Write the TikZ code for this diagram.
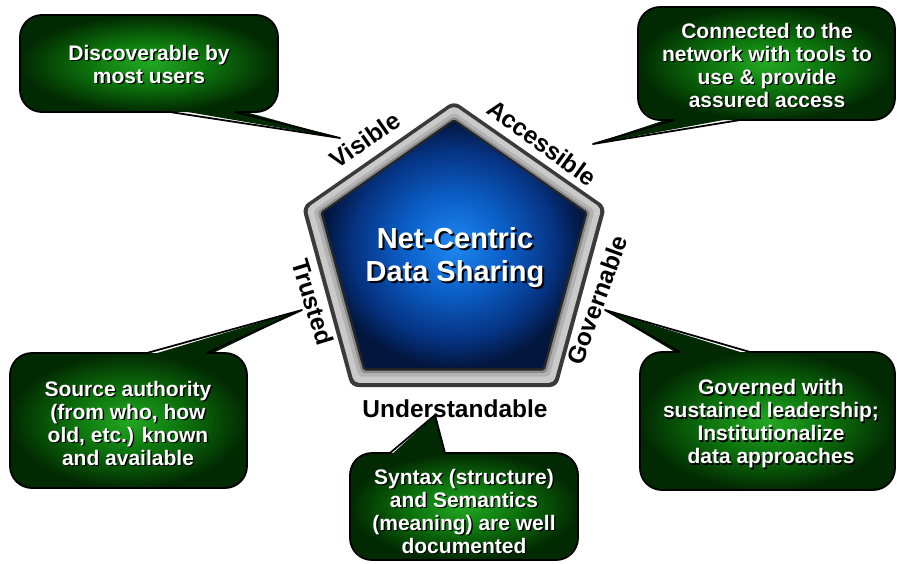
\documentclass[tikz,border=0pt]{standalone}
\usepackage{fontspec}
\setmainfont{Liberation Sans}

% palette
\definecolor{rimdark}{HTML}{3A3A3A}
\definecolor{rimlight}{HTML}{CACACA}
\definecolor{rimshade}{HTML}{B2B2B2}
\definecolor{rimmid}{HTML}{8A8A8A}
\definecolor{rimink}{HTML}{262626}
\definecolor{coreglow}{HTML}{1E88F2}
\definecolor{coremid}{HTML}{0B5EC6}
\definecolor{coredeep}{HTML}{063484}
\definecolor{coreedge}{HTML}{02163E}
\definecolor{leafglow}{HTML}{22A822}
\definecolor{leafmid}{HTML}{0C720C}
\definecolor{leafedge}{HTML}{022A02}

% radial glows (the path's bounding box maps onto the inner 50bp square)
\pgfdeclareradialshading{coreshade}{\pgfpoint{0bp}{0bp}}{%
  color(0bp)=(coreglow); color(10bp)=(coremid); color(19bp)=(coredeep);
  color(25bp)=(coreedge); color(50bp)=(coreedge)}
\pgfdeclareradialshading{leafshade}{\pgfpoint{0bp}{0bp}}{%
  color(0bp)=(leafglow); color(12bp)=(leafmid); color(25bp)=(leafedge);
  color(50bp)=(leafedge)}

\tikzset{
  leafline/.style={draw=black, line width=1.8pt, line join=round, line cap=round},
  bubbletext/.style={font=\bfseries\fontsize{21}{23}\selectfont, text=white,
    align=center, inner sep=0pt},
  bubbleshadow/.style={bubbletext, text=black, xshift=1.4pt, yshift=-1.4pt},
  coretext/.style={font=\bfseries\fontsize{29}{33}\selectfont, text=white,
    align=center, inner sep=0pt},
  coreshadow/.style={coretext, text=black, xshift=2pt, yshift=-2pt},
  edgelabel/.style={font=\bfseries\fontsize{24.5}{26}\selectfont, text=black,
    inner sep=0pt}
}

% speech bubble with its tail on the bottom edge
% #1 left, #2 top, #3 right, #4 bottom, #5/#6 tail base x, #7 tail tip name
\newcommand{\leafbubbledown}[7]{%
  \fill[leafedge] (#5,#4-3) -- (#7) -- (#6,#4-3) -- cycle;
  \shade[shading=leafshade, rounded corners=22pt] (#1,#2) rectangle (#3,#4);
  \draw[leafline, rounded corners=22pt]
    (#6,#4) -- (#3,#4) -- (#3,#2) -- (#1,#2) -- (#1,#4) -- (#5,#4);
  \draw[leafline] (#5,#4) -- (#7) -- (#6,#4);
}
% speech bubble with its tail on the top edge
\newcommand{\leafbubbleup}[7]{%
  \fill[leafedge] (#5,#2+3) -- (#7) -- (#6,#2+3) -- cycle;
  \shade[shading=leafshade, rounded corners=22pt] (#1,#2) rectangle (#3,#4);
  \draw[leafline, rounded corners=22pt]
    (#6,#2) -- (#3,#2) -- (#3,#4) -- (#1,#4) -- (#1,#2) -- (#5,#2);
  \draw[leafline] (#5,#2) -- (#7) -- (#6,#2);
}

\begin{document}
\begin{tikzpicture}[x=1pt,y=-1pt]
\useasboundingbox[fill=white] (0,0) rectangle (897,563);

% tail tips
\coordinate (tipVisible)    at (340,138);
\coordinate (tipAccess)     at (593,144);
\coordinate (tipGovern)     at (605,310);
\coordinate (tipTrusted)    at (302,310);
\coordinate (tipUnderstand) at (435,415);

% ---------- speech bubbles ----------
\leafbubbledown{20}{15}{278}{112}{170}{235}{tipVisible}
\node[bubbleshadow] (visShadow) at (149,64) {Discoverable by\\most users};
\node[bubbletext]   (visText)   at (149,64) {Discoverable by\\most users};

\leafbubbledown{638}{7}{895}{120}{674}{740}{tipAccess}
\node[bubbleshadow] (accShadow) at (767,65) {Connected to the\\network with tools to\\use \& provide\\assured access};
\node[bubbletext]   (accText)   at (767,65) {Connected to the\\network with tools to\\use \& provide\\assured access};

\leafbubbleup{640}{352}{895}{490}{680}{750}{tipGovern}
\node[bubbleshadow] (govShadow) at (771,424) {Governed with\\sustained leadership;\\Institutionalize\\data approaches};
\node[bubbletext]   (govText)   at (771,424) {Governed with\\sustained leadership;\\Institutionalize\\data approaches};

\leafbubbleup{10}{353}{247}{488}{147}{207}{tipTrusted}
\node[bubbleshadow] (truShadow) at (128,423) {Source authority\\(from who, how\\old, etc.) known\\and available};
\node[bubbletext]   (truText)   at (128,423) {Source authority\\(from who, how\\old, etc.) known\\and available};

\leafbubbleup{350}{453}{578}{560}{390}{445}{tipUnderstand}
\node[bubbleshadow] (undShadow) at (464,511) {Syntax (structure)\\and Semantics\\(meaning) are well\\documented};
\node[bubbletext]   (undText)   at (464,511) {Syntax (structure)\\and Semantics\\(meaning) are well\\documented};

% ---------- framed pentagon ----------
\begin{scope}[shift={(454,250)}]
  \fill[rimdark, rounded corners=7pt]
    (0,-149) -- (152,-43) -- (103,137) -- (-103,137) -- (-152,-43) -- cycle;
  \begin{scope}[scale=0.970]
    \fill[rimlight, rounded corners=5pt]
      (0,-149) -- (152,-43) -- (103,137) -- (-103,137) -- (-152,-43) -- cycle;
  \end{scope}
  \begin{scope}[scale=0.925]
    \fill[rimshade, rounded corners=4pt]
      (0,-149) -- (152,-43) -- (103,137) -- (-103,137) -- (-152,-43) -- cycle;
  \end{scope}
  \begin{scope}[scale=0.897]
    \fill[rimmid, rounded corners=3pt]
      (0,-149) -- (152,-43) -- (103,137) -- (-103,137) -- (-152,-43) -- cycle;
  \end{scope}
  \begin{scope}[scale=0.880]
    \fill[rimink, rounded corners=2pt]
      (0,-149) -- (152,-43) -- (103,137) -- (-103,137) -- (-152,-43) -- cycle;
  \end{scope}
  \begin{scope}[scale=0.862]
    \shade[shading=coreshade, rounded corners=1pt]
      (0,-149) -- (152,-43) -- (103,137) -- (-103,137) -- (-152,-43) -- cycle;
  \end{scope}
\end{scope}

\node[coreshadow] (coreShadow) at (455,258) {Net-Centric\\Data Sharing};
\node[coretext]   (coreText)   at (455,258) {Net-Centric\\Data Sharing};

% ---------- edge labels ----------
\node[edgelabel, rotate=35]  (lblVisible)    at (365,140) {Visible};
\node[edgelabel, rotate=-36] (lblAccess)     at (542,143) {Accessible};
\node[edgelabel, rotate=70]  (lblGovern)     at (597,300) {Governable};
\node[edgelabel, rotate=-73] (lblTrusted)    at (313,302) {Trusted};
\node[edgelabel]             (lblUnderstand) at (455,409) {Understandable};
\end{tikzpicture}
\end{document}
